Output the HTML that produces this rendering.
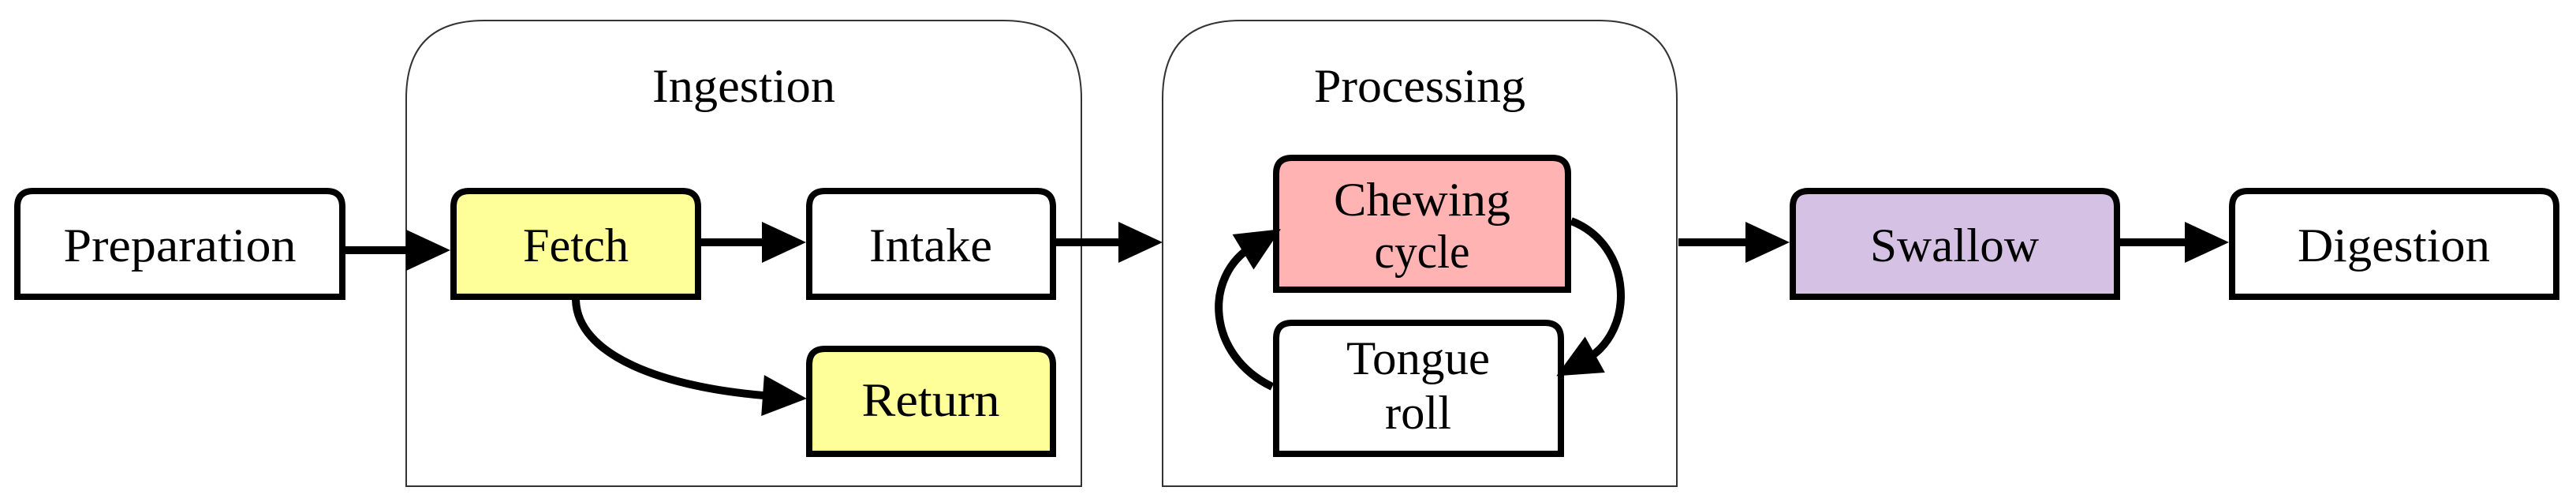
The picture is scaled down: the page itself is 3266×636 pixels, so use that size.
<!DOCTYPE html>
<html><head><meta charset="utf-8"><style>
html,body{margin:0;padding:0;background:#fff;}
svg{display:block;}
text{font-family:"Liberation Serif",serif;font-size:60px;fill:#000;}
</style></head><body>
<svg width="3266" height="636" viewBox="0 0 3266 636" xmlns="http://www.w3.org/2000/svg">
<defs>
<marker id="ah" markerUnits="userSpaceOnUse" markerWidth="60" markerHeight="60" refX="14" refY="26" orient="auto" overflow="visible">
<path d="M0,0 L56,26 L0,52 Z" fill="#000"/>
</marker>
</defs>
<path d="M515,616 L515,125 Q515,26 614,26 L1272,26 Q1371,26 1371,125 L1371,616 Z" fill="#fff" stroke="#333" stroke-width="2"/>
<path d="M1474,616 L1474,125 Q1474,26 1573,26 L2027,26 Q2126,26 2126,125 L2126,616 Z" fill="#fff" stroke="#333" stroke-width="2"/>
<text x="943" y="129" textLength="232" lengthAdjust="spacingAndGlyphs" text-anchor="middle">Ingestion</text>
<text x="1800" y="129" textLength="268" lengthAdjust="spacingAndGlyphs" text-anchor="middle">Processing</text>

<g stroke="#000" stroke-width="8">
<path d="M22,376 L22,262 Q22,242 42,242 L414,242 Q434,242 434,262 L434,376 Z" fill="#fff"/>
<path d="M575,376 L575,262 Q575,242 595,242 L865,242 Q885,242 885,262 L885,376 Z" fill="#ffff99"/>
<path d="M1026,376 L1026,262 Q1026,242 1046,242 L1315,242 Q1335,242 1335,262 L1335,376 Z" fill="#fff"/>
<path d="M1026,575 L1026,462 Q1026,442 1046,442 L1315,442 Q1335,442 1335,462 L1335,575 Z" fill="#ffff99"/>
<path d="M1618,367 L1618,220 Q1618,200 1638,200 L1968,200 Q1988,200 1988,220 L1988,367 Z" fill="#ffb3b3"/>
<path d="M1618,575 L1618,429 Q1618,409 1638,409 L1959,409 Q1979,409 1979,429 L1979,575 Z" fill="#fff"/>
<path d="M2273,376 L2273,262 Q2273,242 2293,242 L2664,242 Q2684,242 2684,262 L2684,376 Z" fill="#d5c1e3"/>
<path d="M2830,376 L2830,262 Q2830,242 2850,242 L3221,242 Q3241,242 3241,262 L3241,376 Z" fill="#fff"/>
</g>

<g stroke="#000" stroke-width="10" fill="none" marker-end="url(#ah)">
<line x1="438" y1="317" x2="529" y2="317"/>
<line x1="889" y1="307" x2="980" y2="307"/>
<line x1="1339" y1="307" x2="1432" y2="307"/>
<line x1="2128" y1="307" x2="2227" y2="307"/>
<line x1="2688" y1="307" x2="2784" y2="307"/>
<path d="M730,378 C730,450 840,492 981,502"/>
<path d="M1613,490 C1530,450 1525,350 1588,312"/>
<path d="M1992,280 C2070,310 2075,420 2010,456"/>
</g>

<text x="228" y="331" textLength="295" lengthAdjust="spacingAndGlyphs" text-anchor="middle">Preparation</text>
<text x="730" y="331" textLength="134" lengthAdjust="spacingAndGlyphs" text-anchor="middle">Fetch</text>
<text x="1180" y="331" textLength="156" lengthAdjust="spacingAndGlyphs" text-anchor="middle">Intake</text>
<text x="1180" y="527" textLength="175" lengthAdjust="spacingAndGlyphs" text-anchor="middle">Return</text>
<text x="1803" y="273" textLength="224" lengthAdjust="spacingAndGlyphs" text-anchor="middle">Chewing</text>
<text x="1803" y="339" textLength="121" lengthAdjust="spacingAndGlyphs" text-anchor="middle">cycle</text>
<text x="1798" y="474" textLength="182" lengthAdjust="spacingAndGlyphs" text-anchor="middle">Tongue</text>
<text x="1798" y="543" textLength="84" lengthAdjust="spacingAndGlyphs" text-anchor="middle">roll</text>
<text x="2478" y="331" textLength="214" lengthAdjust="spacingAndGlyphs" text-anchor="middle">Swallow</text>
<text x="3035" y="331" textLength="244" lengthAdjust="spacingAndGlyphs" text-anchor="middle">Digestion</text>
</svg>
</body></html>
